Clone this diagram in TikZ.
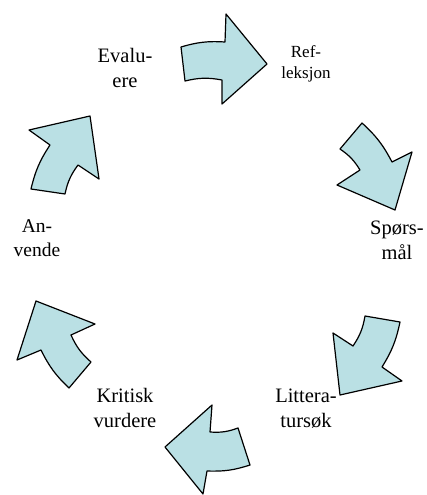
\documentclass[tikz,border=0pt]{standalone}
\usepackage{fontspec}
\setmainfont{Liberation Serif}
\definecolor{arrowfill}{RGB}{186,224,228}

\begin{document}
\begin{tikzpicture}[x=1pt,y=-1pt,
    blockarrow/.style={fill=arrowfill,draw=black,line width=1.2pt,line join=round},
    steptext/.style={align=center,inner sep=0pt,font=\fontsize{20.5}{25}\selectfont}]
                \useasboundingbox (0,0) rectangle (426,495);
                \filldraw[blockarrow] (181,47) to[bend left=10] (225,42) -- (226,14) -- (267,64) -- (222,104) -- (222,80) to[bend right=12] (185,81) -- cycle;
                \filldraw[blockarrow] (362,123) to[bend left=10] (392,162) -- (412,152) -- (395,210) -- (337,185) -- (360,170) to[bend right=12] (340,149) -- cycle;
                \filldraw[blockarrow] (400,322) to[bend left=10] (382,367) -- (402,381) -- (340,395) -- (333,333) -- (353,346) to[bend right=12] (365,316) -- cycle;
                \filldraw[blockarrow] (250,465) to[bend left=10] (207,471) -- (203,494) -- (165,447) -- (212,405) -- (210,432) to[bend right=12] (238,428) -- cycle;
                \filldraw[blockarrow] (69,388) to[bend left=10] (41,350) -- (17,360) -- (36,301) -- (95,324) -- (71,335) to[bend right=12] (91,362) -- cycle;
                \filldraw[blockarrow] (31,189) to[bend left=10] (50,145) -- (29,130) -- (90,116) -- (99,179) -- (78,165) to[bend right=12] (65,194) -- cycle;
                \node[steptext] (evaluere) at (125,68) {Evalu-\\ere};
                \node[steptext,font=\fontsize{17}{21}\selectfont] (refleksjon) at (306,64) {Ref-\\leksjon};
                \node[steptext] (sporsmal) at (397,240) {Spørs-\\mål};
                \node[steptext] (litteratur) at (306,409) {Littera-\\tursøk};
                \node[steptext] (kritisk) at (125,408) {Kritisk\\vurdere};
                \node[steptext,font=\fontsize{19.5}{24}\selectfont] (anvende) at (37,238) {An-\\vende};
            \end{tikzpicture}
\end{document}
